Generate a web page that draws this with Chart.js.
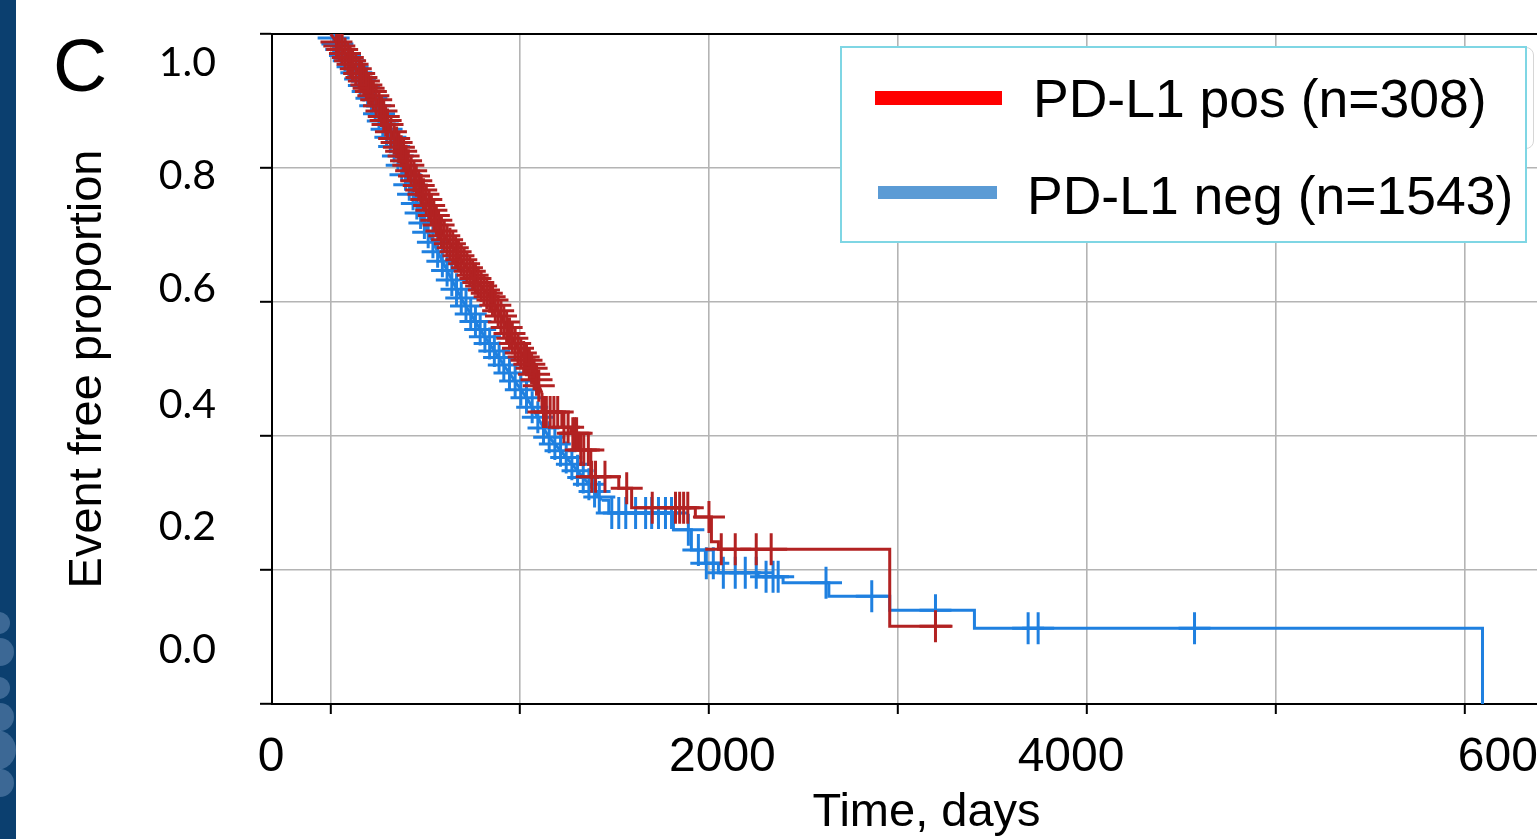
<!DOCTYPE html>
<html>
<head>
<meta charset="utf-8">
<script src="https://cdn.jsdelivr.net/npm/chart.js@4.4.1/dist/chart.umd.min.js"></script>
<style>
  html, body { margin: 0; padding: 0; background: #fff; }
  body { width: 1537px; height: 839px; overflow: hidden; position: relative; font-family: 'Liberation Sans', Arial, sans-serif; }
  #chart { position: absolute; left: 0; top: 0; }
  .strip { position: absolute; left: 0; top: 0; width: 16px; height: 839px; background: #0b3f6f; overflow: hidden; }
  .strip span { position: absolute; border-radius: 50%; background: rgba(120, 155, 195, 0.45); }
  .panel { position: absolute; left: 53px; top: 28px; font-size: 75px; line-height: 1; color: #000; }
  .ghost { position: absolute; left: 1478px; top: 47px; width: 54px; height: 100px; border: 1.5px solid #d6d6d6; border-radius: 8px; }
  .legend { position: absolute; left: 840px; top: 46px; width: 687px; height: 197px; box-sizing: border-box; border: 2px solid #7fd6e4; background: #fff; }
  .swatch { position: absolute; }
  .ltext { position: absolute; font-size: 53.5px; line-height: 1; color: #000; white-space: nowrap; }
</style>
</head>
<body>
<canvas id="chart" width="1600" height="839"></canvas>
<div class="strip">
  <span style="left:-12px; top:612px; width:22px; height:22px;"></span>
  <span style="left:-14px; top:638px; width:28px; height:28px;"></span>
  <span style="left:-12px; top:677px; width:22px; height:22px;"></span>
  <span style="left:-14px; top:703px; width:28px; height:28px;"></span>
  <span style="left:-24px; top:730px; width:40px; height:40px;"></span>
  <span style="left:-14px; top:769px; width:28px; height:28px;"></span>
</div>
<div class="panel">C</div>
<div class="ghost"></div>
<div class="legend"></div>
<div class="swatch" style="left:875px; top:91px; width:127px; height:14px; background:#ff0000;"></div>
<div class="swatch" style="left:878px; top:186px; width:119px; height:13px; background:#5b9bd5;"></div>
<div class="ltext" style="left:1033px; top:72px;">PD-L1 pos (n=308)</div>
<div class="ltext" style="left:1027px; top:169px;">PD-L1 neg (n=1543)</div>
<script>
// PD-L1 pos: dense early part (drawn as a line), then the visible steps
const posEarlyDays = [0, 126, 242, 321, 416, 506, 590, 717, 855, 943, 996, 1059, 1117];
const posEarlySurv = [1.0, 0.951, 0.901, 0.852, 0.801, 0.752, 0.703, 0.652, 0.603, 0.554, 0.528, 0.503, 0.464];
const posLateDays = [1117, 1117, 1222, 1270, 1312, 1375, 1523, 1591, 1928, 2013, 2050, 2956, 3288];
const posLateSurv = [0.464, 0.436, 0.413, 0.404, 0.379, 0.339, 0.322, 0.293, 0.279, 0.242, 0.231, 0.116, 0.116];
// censoring marks (+)
const posCensorDays = [30, 45, 60, 75, 90, 102, 115, 132, 150, 162, 175, 188, 200, 212, 225, 240, 255, 268, 280, 290,
    300, 318, 335, 348, 360, 372, 385, 398, 410, 425, 440, 452, 465, 478, 490, 505, 520, 532, 545, 558,
    570, 585, 600, 615, 630, 645, 660, 675, 690, 705, 720, 735, 750, 765, 780, 795, 810, 825, 840, 855,
    870, 885, 900, 915, 930, 945, 960, 975, 990, 1005, 1020, 1035, 1050, 1062, 1075, 1088, 1100, 1125, 1140, 1160,
    1180, 1200, 1233, 1255, 1280, 1290, 1300, 1322, 1338, 1362, 1380, 1400, 1450, 1565, 1700, 1823, 1845, 1866, 1888, 2000,
    2065, 2139, 2250, 2329, 3198];
const posCensorSurv = [0.988, 0.982, 0.977, 0.971, 0.965, 0.960, 0.955, 0.948, 0.941, 0.935, 0.930, 0.924, 0.919, 0.914, 0.908, 0.902, 0.893, 0.885, 0.877, 0.871,
    0.865, 0.854, 0.844, 0.838, 0.831, 0.825, 0.818, 0.811, 0.804, 0.796, 0.788, 0.781, 0.774, 0.767, 0.761, 0.753, 0.744, 0.737, 0.729, 0.722,
    0.715, 0.706, 0.699, 0.693, 0.687, 0.681, 0.675, 0.669, 0.663, 0.657, 0.651, 0.646, 0.640, 0.635, 0.629, 0.624, 0.618, 0.613, 0.608, 0.603,
    0.595, 0.587, 0.579, 0.570, 0.562, 0.553, 0.546, 0.538, 0.531, 0.524, 0.518, 0.513, 0.507, 0.501, 0.492, 0.484, 0.475, 0.436, 0.436, 0.436,
    0.436, 0.436, 0.413, 0.413, 0.404, 0.404, 0.404, 0.379, 0.379, 0.379, 0.339, 0.339, 0.339, 0.322, 0.293, 0.293, 0.293, 0.293, 0.293, 0.279,
    0.231, 0.231, 0.231, 0.231, 0.116];

// PD-L1 neg
const negEarlyDays = [0, 116, 221, 306, 379, 448, 516, 606, 695, 801, 922, 1043, 1149, 1359, 1433];
const negEarlySurv = [1.0, 0.951, 0.901, 0.852, 0.801, 0.752, 0.703, 0.652, 0.603, 0.554, 0.503, 0.454, 0.400, 0.330, 0.304];
const negLateDays = [1433, 1470, 1812, 1907, 1981, 2050, 2260, 2392, 2634, 2956, 3404, 6091];
const negLateSurv = [0.304, 0.285, 0.260, 0.230, 0.210, 0.196, 0.190, 0.181, 0.161, 0.140, 0.113, 0.0];
const negCensorDays = [15, 35, 55, 75, 95, 115, 135, 155, 175, 195, 215, 235, 255, 275, 295, 315, 335, 355, 375, 395,
    415, 435, 455, 475, 495, 515, 540, 565, 590, 615, 640, 665, 690, 715, 740, 765, 790, 815, 840, 865,
    890, 915, 945, 975, 1005, 1035, 1065, 1095, 1125, 1155, 1185, 1215, 1245, 1275, 1305, 1335, 1365, 1395, 1420, 1486,
    1523, 1560, 1612, 1665, 1697, 1733, 1770, 1802, 1891, 1944, 1986, 2023, 2076, 2139, 2192, 2250, 2302, 2339, 2366, 2619,
    2861, 3198, 3688, 3741, 4568];
const negCensorSurv = [0.994, 0.985, 0.977, 0.968, 0.960, 0.951, 0.942, 0.933, 0.923, 0.914, 0.904, 0.893, 0.881, 0.870, 0.858, 0.846, 0.832, 0.818, 0.804, 0.790,
    0.775, 0.761, 0.747, 0.733, 0.718, 0.704, 0.689, 0.675, 0.661, 0.647, 0.633, 0.619, 0.606, 0.594, 0.582, 0.571, 0.559, 0.548, 0.538, 0.527,
    0.517, 0.506, 0.494, 0.482, 0.469, 0.457, 0.443, 0.428, 0.412, 0.398, 0.388, 0.378, 0.368, 0.358, 0.348, 0.338, 0.328, 0.317, 0.309, 0.285,
    0.285, 0.285, 0.285, 0.285, 0.285, 0.285, 0.285, 0.285, 0.260, 0.230, 0.210, 0.210, 0.196, 0.196, 0.196, 0.196, 0.190, 0.190, 0.190, 0.181,
    0.161, 0.140, 0.113, 0.113, 0.113];

// gridline positions
const xGridTicks = [0, 1000, 2000, 3000, 4000, 5000, 6000];
const yGridTicks = [0, 0.2, 0.4, 0.6, 0.8, 1.0];

// axis labels as they appear (pasted a little off the tick marks in the original slide)
const xTickLabels = ['0', '2000', '4000', '6000'];
const yTickLabels = ['0.0', '0.2', '0.4', '0.6', '0.8', '1.0'];

// where those labels sit, in axis units
const xLabelAt = [-316, 2071, 3915, 6243];
const yLabelAt = [0.081, 0.264, 0.446, 0.619, 0.788, 0.957];

const red = '#b22222';
const blue = '#1f80e0';

function pts(days, surv) {
    return days.map((d, i) => ({ x: d, y: surv[i] }));
}

function curve(days, surv, color, stepped) {
    return {
        type: 'line',
        data: pts(days, surv),
        borderColor: color,
        borderWidth: 3,
        pointRadius: 0,
        fill: false,
        stepped: stepped,
        xAxisID: 'x',
        yAxisID: 'y'
    };
}

function censors(days, surv, color) {
    return {
        type: 'scatter',
        data: pts(days, surv),
        pointStyle: 'cross',
        pointRadius: 16,
        pointBorderWidth: 3,
        pointBorderColor: color,
        borderColor: color,
        xAxisID: 'x',
        yAxisID: 'y'
    };
}

const gridColor = '#b4b4b4';
const xMin = -311, xMax = 6612;

new Chart(document.getElementById('chart').getContext('2d'), {
    type: 'line',
    data: {
        datasets: [
            censors(posCensorDays, posCensorSurv, red),
            curve(posEarlyDays, posEarlySurv, red, false),
            curve(posLateDays, posLateSurv, red, 'before'),
            censors(negCensorDays, negCensorSurv, blue),
            curve(negEarlyDays, negEarlySurv, blue, false),
            curve(negLateDays, negLateSurv, blue, 'before')
        ]
    },
    options: {
        responsive: false,
        animation: false,
        events: [],
        layout: { padding: { top: 34, right: 14, left: 0, bottom: 0 } },
        plugins: { legend: { display: false }, tooltip: { enabled: false } },
        scales: {
            x: {
                type: 'linear', position: 'bottom', weight: 0, bounds: 'data',
                min: xMin, max: xMax,
                afterBuildTicks: (s) => { s.ticks = xGridTicks.map(v => ({ value: v })); },
                grid: { color: gridColor, lineWidth: 1.6, tickColor: '#000', tickWidth: 2, tickLength: 10 },
                border: { color: '#000', width: 2 },
                ticks: { display: false },
                afterFit: (s) => { s.height = 10; s.paddingLeft = 0; s.paddingRight = 0; }
            },
            xLab: {
                type: 'linear', position: 'bottom', weight: 1, bounds: 'data',
                min: xMin, max: xMax,
                grid: { display: false },
                border: { display: false },
                afterBuildTicks: (s) => { s.ticks = xLabelAt.map(v => ({ value: v })); },
                ticks: {
                    autoSkip: false, maxRotation: 0, padding: 7, color: '#000',
                    font: { family: 'Liberation Sans', size: 48 },
                    callback: (v, i) => xTickLabels[i]
                },
                title: {
                    display: true, text: 'Time, days', color: '#000',
                    font: { family: 'Liberation Sans', size: 47, lineHeight: 1 },
                    padding: { top: 0, bottom: 2 }
                },
                afterFit: (s) => { s.height = 125; s.paddingLeft = 0; s.paddingRight = 0; }
            },
            xTop: {
                type: 'linear', position: 'top', bounds: 'data',
                min: xMin, max: xMax,
                grid: { display: false },
                border: { color: '#000', width: 2 },
                ticks: { display: false },
                afterFit: (s) => { s.height = 0; s.paddingLeft = 0; s.paddingRight = 0; }
            },
            y: {
                type: 'linear', position: 'left', weight: 0, bounds: 'data',
                min: 0, max: 1,
                afterBuildTicks: (s) => { s.ticks = yGridTicks.map(v => ({ value: v })); },
                grid: { color: gridColor, lineWidth: 1.6, tickColor: '#000', tickWidth: 2, tickLength: 12 },
                border: { color: '#000', width: 2 },
                ticks: { display: false },
                afterFit: (s) => { s.width = 12; s.paddingTop = 0; s.paddingBottom = 0; }
            },
            yLab: {
                type: 'linear', position: 'left', weight: 1, bounds: 'data',
                min: 0, max: 1,
                grid: { display: false },
                border: { display: false },
                afterBuildTicks: (s) => { s.ticks = yLabelAt.map(v => ({ value: v })); },
                ticks: {
                    autoSkip: false, padding: 36, color: '#000',
                    font: { family: 'Lato', size: 41 },
                    callback: (v, i) => yTickLabels[i]
                },
                title: {
                    display: true, text: 'Event free proportion', color: '#000',
                    font: { family: 'Liberation Sans', size: 47, lineHeight: 1 },
                    padding: { top: 65, bottom: 0 }
                },
                afterFit: (s) => { s.width = 260; s.paddingTop = 0; s.paddingBottom = 0; }
            }
        }
    }
});
</script>
</body>
</html>
